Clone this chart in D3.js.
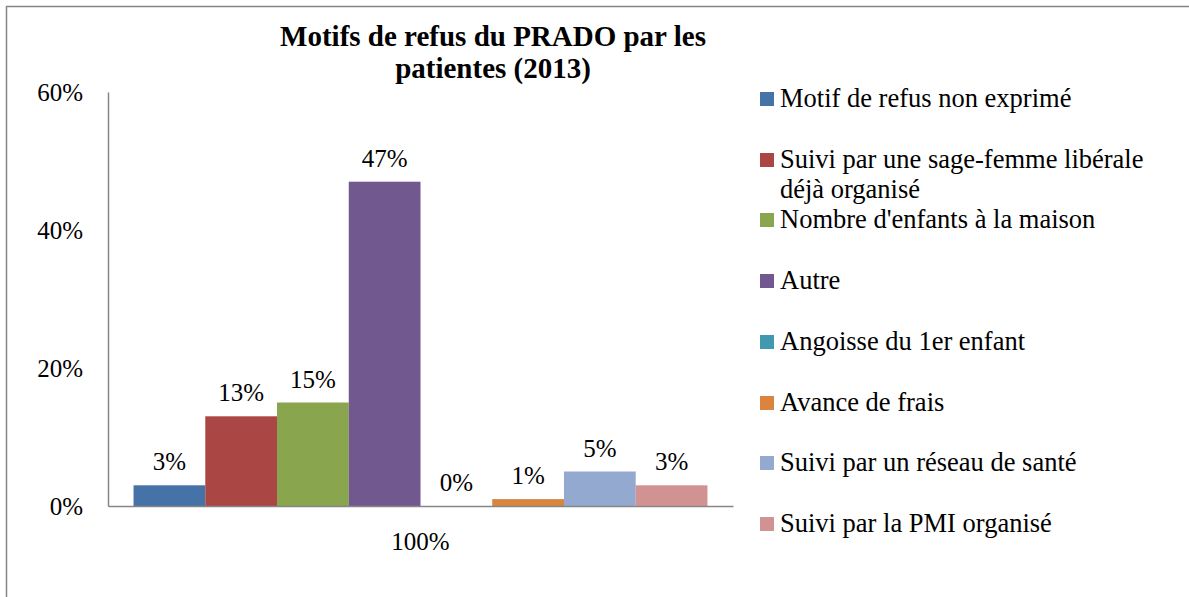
<!DOCTYPE html>
<html>
<head>
<meta charset="utf-8">
<script src="https://cdn.jsdelivr.net/npm/d3@7"></script>
</head>
<body style="margin:0; background:#fff">
<div id="box"></div>
<script>
// 画布
const width = 1189
const height = 597

// 数据
const titleLines = ['Motifs de refus du PRADO par les', 'patientes (2013)']
const category = '100%'
const seriesNames = [
  'Motif de refus non exprimé',
  'Suivi par une sage-femme libérale déjà organisé',
  "Nombre d'enfants à la maison",
  'Autre',
  'Angoisse du 1er enfant',
  'Avance de frais',
  'Suivi par un réseau de santé',
  'Suivi par la PMI organisé'
]
const seriesValues = [0.03, 0.13, 0.15, 0.47, 0.00, 0.01, 0.05, 0.03]
const seriesColors = ['#4572A7', '#AA4643', '#89A54E', '#71588F', '#4198AF', '#DB843D', '#93A9CF', '#D19392']
const yTicks = [0, 0.2, 0.4, 0.6]

const plot = {left: 108, right: 733, top: 92, bottom: 506}
const pct = d3.format('.0%')
const serif = '"Liberation Serif"'

const svg = d3.select('#box').append('svg')
  .attr('width', width)
  .attr('height', height)

// 外框（右、下边在画面之外）
svg.append('rect')
  .attr('x', 6.5).attr('y', 6.5)
  .attr('width', 1200).attr('height', 620)
  .attr('fill', 'none')
  .attr('stroke', '#868686')
  .attr('stroke-width', 1.5)

// 标题
svg.append('text')
  .attr('text-anchor', 'middle')
  .style('font-weight', 'bold')
  .style('font-size', '29px')
  .selectAll('tspan').data(titleLines).join('tspan')
  .attr('x', 493)
  .attr('y', (d, i) => 46 + i * 32)
  .text(d => d)

// 比例尺
const y = d3.scaleLinear().domain([0, 0.6]).range([plot.bottom, plot.top])
const x0 = d3.scaleBand().domain([category]).range([plot.left, plot.right]).paddingOuter(0.0445).paddingInner(0)
const x1 = d3.scaleBand().domain(d3.range(seriesValues.length)).range([x0(category), x0(category) + x0.bandwidth()])

// y 轴
const yAxis = svg.append('g')
  .attr('transform', `translate(${plot.left},0)`)
  .call(d3.axisLeft(y).tickValues(yTicks).tickFormat(pct).tickSize(0).tickPadding(25))
yAxis.select('.domain').attr('stroke', '#868686').attr('stroke-width', 1.5)
yAxis.selectAll('text').style('font-size', '25px').attr('dy', '0.35em')

// 柱子
svg.append('g').selectAll('rect').data(seriesValues).join('rect')
  .attr('x', (d, i) => x1(i))
  .attr('y', d => y(d))
  .attr('width', x1.bandwidth())
  .attr('height', d => y(0) - y(d))
  .attr('fill', (d, i) => seriesColors[i])

// x 轴
const xAxis = svg.append('g')
  .attr('transform', `translate(0,${plot.bottom})`)
  .call(d3.axisBottom(x0).tickSize(0).tickPadding(26))
xAxis.select('.domain').attr('stroke', '#868686').attr('stroke-width', 1.5)
xAxis.selectAll('text').style('font-size', '25px')

// 数据标签
svg.append('g').attr('text-anchor', 'middle')
  .selectAll('text').data(seriesValues).join('text')
  .style('font-size', '25px')
  .attr('x', (d, i) => x1(i) + x1.bandwidth() / 2)
  .attr('y', d => y(d) - 15)
  .text(d => pct(d))

// 图例
const legendY = [99, 160, 220, 281, 342, 403, 463, 524]
const items = svg.append('g').selectAll('g').data(seriesNames).join('g')
  .attr('transform', (d, i) => `translate(760,${legendY[i]})`)
items.append('rect')
  .attr('x', 0).attr('y', -7)
  .attr('width', 14).attr('height', 14)
  .attr('fill', (d, i) => seriesColors[i])
items.append('text')
  .style('font-size', '26.5px')
  .each(function(d) {
    const lines = d === seriesNames[1] ? ['Suivi par une sage-femme libérale', 'déjà organisé'] : [d]
    d3.select(this).selectAll('tspan').data(lines).join('tspan')
      .attr('x', 20)
      .attr('y', (l, j) => 8 + j * 30)
      .text(l => l)
  })

// 统一字体
svg.selectAll('text').style('font-family', serif).attr('fill', '#000')
</script>
</body>
</html>
